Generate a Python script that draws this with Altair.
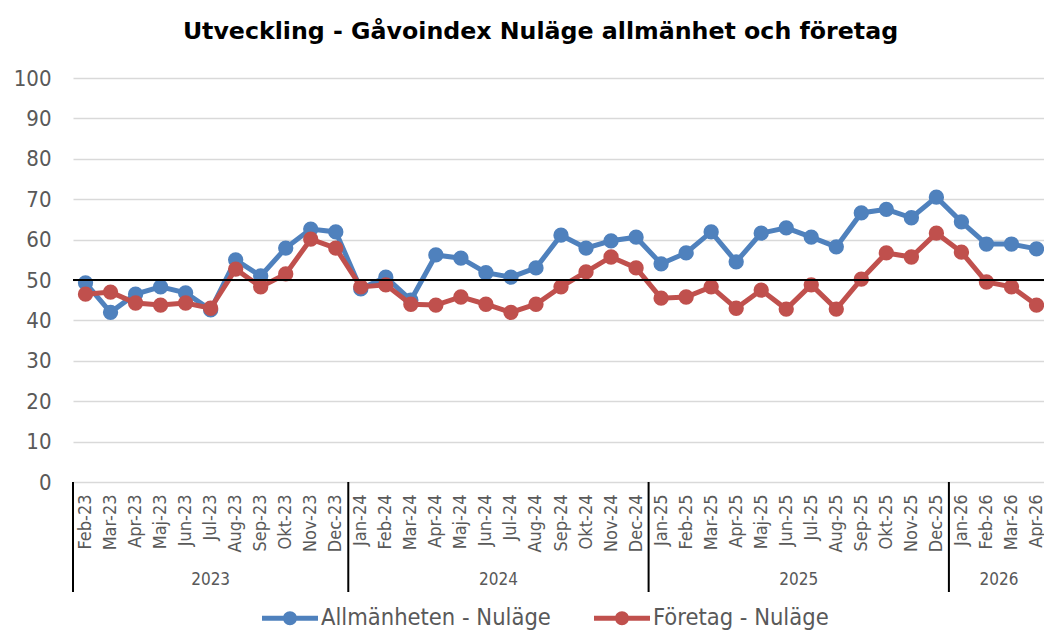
import json
import altair as alt
import pandas as pd

months = ["Feb-23", "Mar-23", "Apr-23", "Maj-23", "Jun-23", "Jul-23", "Aug-23", "Sep-23", "Okt-23", "Nov-23", "Dec-23",
          "Jan-24", "Feb-24", "Mar-24", "Apr-24", "Maj-24", "Jun-24", "Jul-24", "Aug-24", "Sep-24", "Okt-24", "Nov-24", "Dec-24",
          "Jan-25", "Feb-25", "Mar-25", "Apr-25", "Maj-25", "Jun-25", "Jul-25", "Aug-25", "Sep-25", "Okt-25", "Nov-25", "Dec-25",
          "Jan-26", "Feb-26", "Mar-26", "Apr-26"]

allmanheten = [49.3, 42.0, 46.5, 48.3, 46.8, 42.6, 55.0, 51.0, 57.9, 62.6, 61.9,
               47.8, 50.7, 45.0, 56.2, 55.4, 51.8, 50.7, 53.0, 61.1, 57.9, 59.7, 60.6,
               54.0, 56.7, 61.9, 54.5, 61.6, 62.9, 60.6, 58.2, 66.6, 67.5, 65.4, 70.5,
               64.4, 58.9, 58.9, 57.7]

foretag = [46.5, 47.0, 44.3, 43.8, 44.3, 43.0, 52.7, 48.3, 51.5, 60.1, 57.9,
           48.3, 48.8, 44.0, 43.8, 45.8, 44.0, 42.0, 44.0, 48.3, 52.0, 55.7, 53.0,
           45.5, 45.8, 48.3, 43.0, 47.5, 42.8, 48.8, 42.8, 50.2, 56.7, 55.7, 61.6,
           56.9, 49.5, 48.3, 43.8]

series_names = ["Allmänheten - Nuläge", "Företag - Nuläge"]
series_colors = ["#4F81BD", "#C0504D"]
reference_level = [50]
y_ticks = list(range(0, 101, 10))

FONT = "DejaVu Sans Condensed, Liberation Sans, sans-serif"
W, H = 971, 404

idx = list(range(len(months)))
years = ["20" + m[-2:] for m in months]

df = pd.DataFrame({
    "i": idx * 2,
    "month": months * 2,
    "value": allmanheten + foretag,
    "series": [series_names[0]] * len(months) + [series_names[1]] * len(months),
})

ydf = pd.DataFrame({"i": idx, "year": years})
year_centers = ydf.groupby("year", as_index=False)["i"].mean().rename(columns={"i": "center"})
year_starts = ydf.groupby("year", as_index=False)["i"].min()
year_starts["sep"] = year_starts["i"] - 0.5

label_expr = json.dumps(months) + "[datum.value]"

x_scale = alt.Scale(domain=[-0.5, 38.3], nice=False, zero=False)
y_scale = alt.Scale(domain=[0, 100], nice=False)
color_scale = alt.Scale(domain=series_names, range=series_colors)

legend_path = ("M -1 -0.09 L 1 -0.09 L 1 0.09 L -1 0.09 Z "
               "M -0.25 0 A 0.25 0.25 0 1 1 0.25 0 A 0.25 0.25 0 1 1 -0.25 0 Z")

x_axis = alt.Axis(values=idx, labelExpr=label_expr, labelAngle=-90, labelFontSize=18, labelFont=FONT,
                  labelColor="#595959", labelPadding=12, domain=False, ticks=False,
                  grid=False, title=None, labelOverlap=False, labelFlush=False)
y_axis = alt.Axis(values=y_ticks, labelFontSize=22, labelFont=FONT, labelColor="#595959", labelPadding=22,
                  domain=False, ticks=False, grid=True, gridColor="#D9D9D9", gridWidth=1.5,
                  title=None)
legend = alt.Legend(orient="none", legendX=189, legendY=512, direction="horizontal",
                    title=None, symbolType=legend_path, symbolSize=3136,
                    symbolStrokeWidth=0, labelFontSize=23.5, labelFont=FONT, labelColor="#595959",
                    labelOffset=3, columnPadding=43, labelLimit=500)

x_enc = alt.X("i:Q", scale=x_scale, axis=x_axis)
y_enc = alt.Y("value:Q", scale=y_scale, axis=y_axis)
c_enc = alt.Color("series:N", scale=color_scale, legend=legend)

base = alt.Chart(df)
layers = []
for name in series_names:
    sub = base.transform_filter(alt.datum.series == name)
    line = sub.mark_line(strokeWidth=5).encode(x=x_enc, y=y_enc, color=c_enc)
    pts = sub.mark_point(filled=True, size=235, opacity=1).encode(x=x_enc, y=y_enc, color=c_enc)
    layers += [line, pts]

rule50 = alt.Chart(pd.DataFrame({"value": reference_level})).mark_rule(color="black", strokeWidth=2).encode(
    y=y_enc)

seps = alt.Chart(year_starts.rename(columns={"i": "first", "sep": "i"})).mark_rule(
    color="black", strokeWidth=2).encode(
    x=x_enc, y=alt.value(H), y2=alt.value(H + 110))

year_text = alt.Chart(year_centers.rename(columns={"center": "i"})).mark_text(
    fontSize=17, font=FONT, color="#595959", baseline="middle").encode(
    x=x_enc, y=alt.value(H + 98), text="year:N")

chart = alt.layer(*layers, rule50, seps, year_text).properties(
    width=W, height=H,
    autosize="none",
    padding={"left": 65, "top": 70, "right": 0, "bottom": 151},
    title=alt.Title("Utveckling - Gåvoindex Nuläge allmänhet och företag", fontSize=23.7,
                    font="DejaVu Sans", fontWeight="bold", color="black", anchor="middle",
                    dx=-18, offset=23),
).configure(font=FONT).configure_view(stroke=None)

chart.save("out.html", embed_options={"renderer": "svg", "actions": False})
